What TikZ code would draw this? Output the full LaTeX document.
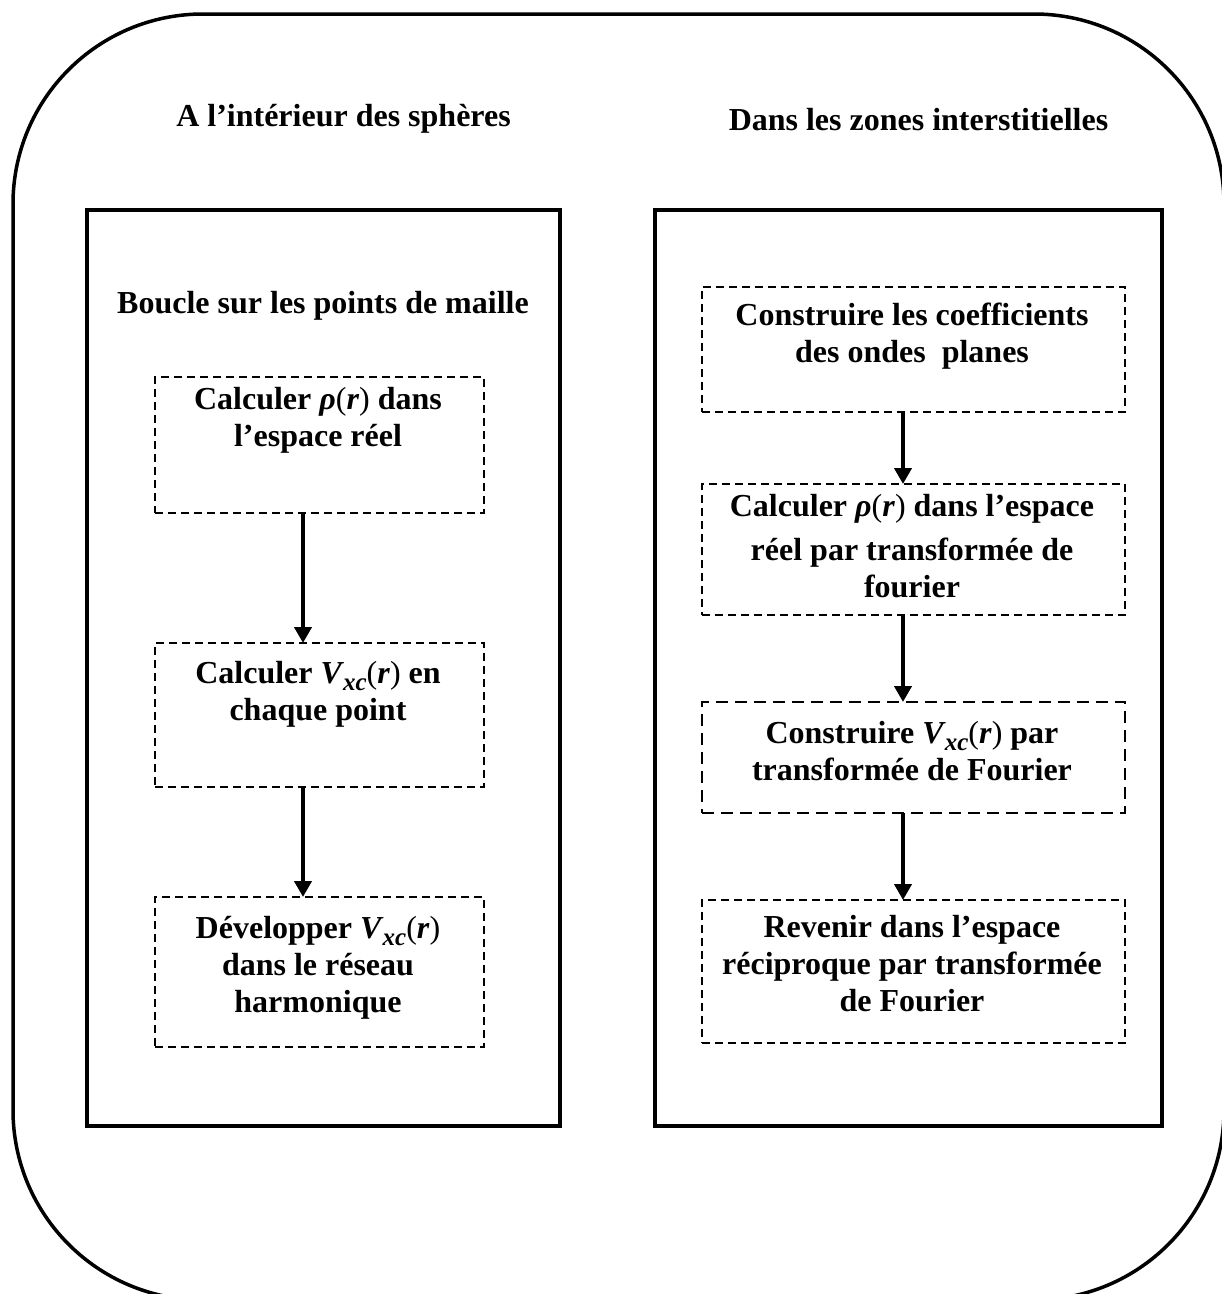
\documentclass[tikz,border=0pt]{standalone}
\usepackage{fontspec}
\setmainfont{Liberation Serif}
\usetikzlibrary{arrows.meta}
% inline symbols: rho(r) and V_xc(r)
\newcommand{\rhor}{\textit{ρ}\textmd{(}\textit{r}\textmd{)}}
\newcommand{\xcsub}{\raisebox{-7pt}{\fontsize{25}{25}\selectfont\itshape xc}}
\newcommand{\vxcr}{\textit{V}\kern-1pt\xcsub\textmd{(}\textit{r}\textmd{)}}
\newcommand{\topstrut}{\rule{0pt}{25pt}}
\begin{document}
\begin{tikzpicture}[x=1pt,y=-1pt,
  every node/.style={inner sep=0pt, outer sep=0pt},
  txt/.style={font=\bfseries\fontsize{32}{37}\selectfont},
  boxtext/.style={txt, align=center, anchor=north},
  frame/.style={draw, line width=4pt},
  stepbox/.style={draw, dashed, dash pattern=on 8pt off 5pt, line width=2.2pt},
  flow/.style={line width=4pt, -{Triangle[length=16pt,width=17pt]}}]
\useasboundingbox (0,0) rectangle (1222,1294);
\clip (0,0) rectangle (1222,1294);

% outer rounded border
\draw[line width=3.5pt, rounded corners=190pt] (13,14) rectangle (1224,1300);

% column titles
\node[txt, anchor=base] (tl) at (343.5,126) {A l’intérieur des sphères};
\node[txt, anchor=base] (tr) at (918.5,130) {Dans les zones interstitielles};

% column frames
\node[frame, minimum width=473pt, minimum height=916pt] (fl) at (323.5,668) {};
\node[frame, minimum width=507pt, minimum height=916pt] (fr) at (908.5,668) {};

\node[txt, anchor=base] (loop) at (323,313) {Boucle sur les points de maille};

% left column steps
\node[stepbox, minimum width=329pt, minimum height=136pt] (l1) at (319.5,445) {};
\node[stepbox, minimum width=329pt, minimum height=144pt] (l2) at (319.5,715) {};
\node[stepbox, minimum width=329pt, minimum height=150pt] (l3) at (319.5,972) {};
\node[boxtext] (l1t) at (318,384) {\topstrut Calculer \rhor{} dans\\l’espace réel};
\node[boxtext] (l2t) at (318,658) {\topstrut Calculer \vxcr{} en\\chaque point};
\node[boxtext] (l3t) at (318,913) {\topstrut Développer \vxcr\\dans le réseau\\harmonique};

% right column steps
\node[stepbox, minimum width=423pt, minimum height=125pt] (r1) at (913.5,349.5) {};
\node[stepbox, minimum width=423pt, minimum height=131pt] (r2) at (913.5,549.5) {};
\node[stepbox, line width=2.5pt, dash pattern=on 12pt off 7pt, minimum width=423pt, minimum height=111pt] (r3) at (913.5,757.5) {};
\node[stepbox, minimum width=423pt, minimum height=143pt] (r4) at (913.5,971.5) {};
\node[boxtext] (r1t) at (912,300) {\topstrut Construire les coefficients\\des ondes\ \ planes};
\node[boxtext] (r2t) at (912,491) {\topstrut Calculer \rhor{} dans l’espace\\[7pt]réel par transformée de\\fourier};
\node[boxtext] (r3t) at (912,718) {\topstrut Construire \vxcr{} par\\transformée de Fourier};
\node[boxtext] (r4t) at (912,912) {\topstrut Revenir dans l’espace\\réciproque par transformée\\de Fourier};

% connectors
\coordinate (axl) at (303,0);
\coordinate (axr) at (903,0);
\draw[flow] (l1.south -| axl) -- (l2.north -| axl);
\draw[flow] (l2.south -| axl) -- (l3.north -| axl);
\draw[flow] (r1.south -| axr) -- (r2.north -| axr);
\draw[flow] (r2.south -| axr) -- (r3.north -| axr);
\draw[flow] (r3.south -| axr) -- (r4.north -| axr);
\end{tikzpicture}
\end{document}
